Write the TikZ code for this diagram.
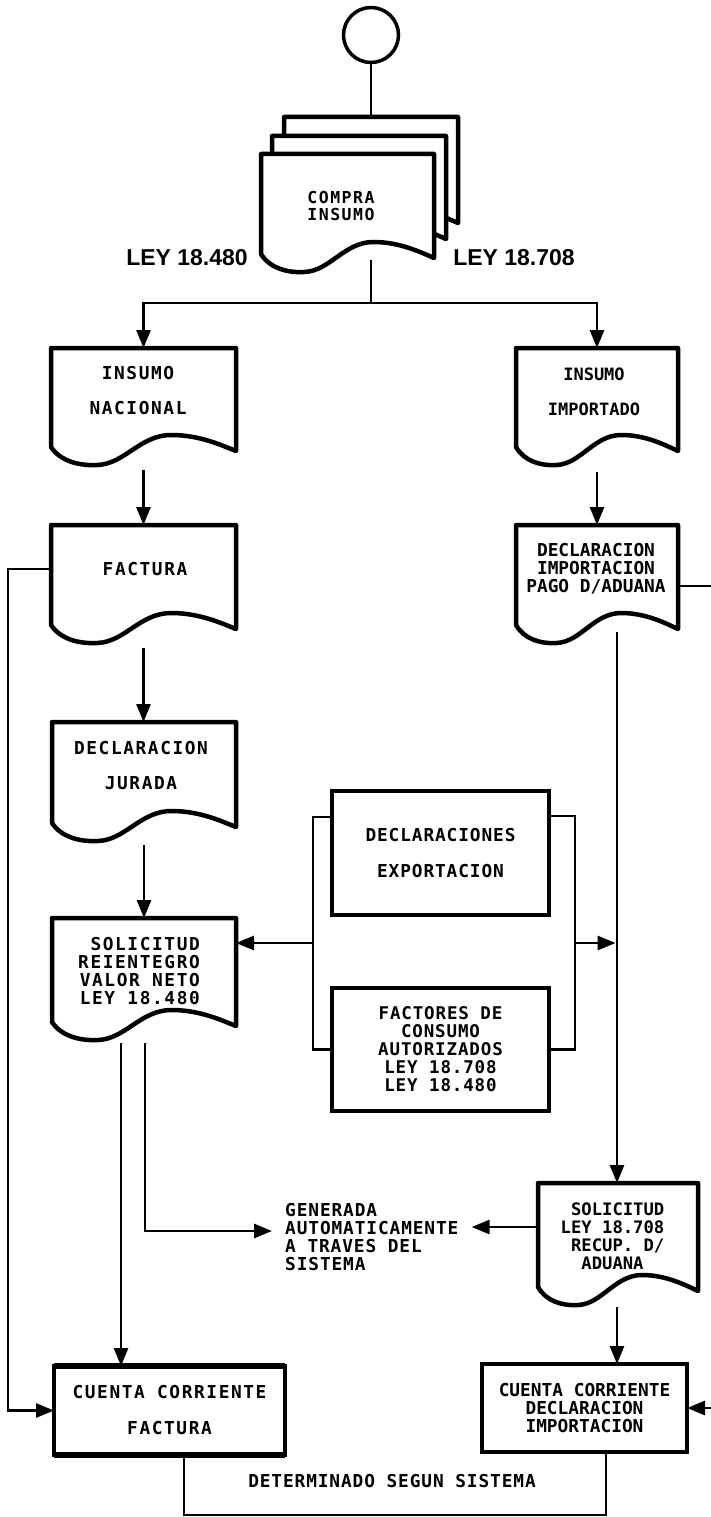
\documentclass[tikz,border=0pt]{standalone}
\usepackage{fontspec}
\usetikzlibrary{arrows.meta,calc}
\newfontfamily\fm{DejaVu Sans Mono}
\newfontfamily\fmA{DejaVu Sans Mono}[LetterSpace=5]
\newfontfamily\fmB{DejaVu Sans Mono}[LetterSpace=9]
\newfontfamily\flb{Liberation Sans}
\newcommand\docshape[5]{%
  \pgfmathsetmacro\dL{#2}\pgfmathsetmacro\dT{#3}\pgfmathsetmacro\dR{#4}\pgfmathsetmacro\dB{#5}%
  \pgfmathsetmacro\dw{\dR-\dL}%
  \draw[docline] (\dL,\dB) -- (\dL,\dT) -- (\dR,\dT) -- (\dR,\dB+4)
    .. controls (\dL+0.92*\dw,\dB-2) and (\dL+0.80*\dw,\dB-12) .. (\dL+0.65*\dw,\dB-12)
    .. controls (\dL+0.48*\dw,\dB-12) and (\dL+0.40*\dw,\dB+17) .. (\dL+0.25*\dw,\dB+18)
    .. controls (\dL+0.15*\dw,\dB+19) and (\dL+0.05*\dw,\dB+14) .. cycle;
  \node[frame, minimum width=\dw, minimum height=\dB-\dT, anchor=north west] (#1) at (\dL,\dT) {};
}
\begin{document}
\begin{tikzpicture}[x=1pt,y=-1pt,
  docline/.style={line width=4.5pt, fill=white, line join=round},
  frame/.style={inner sep=0pt, outer sep=0pt, rectangle},
  boxn/.style={draw, line width=4.5pt, inner sep=0pt, outer sep=0pt, align=center, fill=white},
  tN/.style={inner sep=0pt, align=center, font=\fm\bfseries\fontsize{17.8}{18}\selectfont},
  tA/.style={inner sep=0pt, align=center, font=\fmA\bfseries\fontsize{17.8}{18}\selectfont},
  tB/.style={inner sep=0pt, align=center, font=\fmB\bfseries\fontsize{17.8}{18}\selectfont},
  lbl/.style={inner sep=0pt, font=\flb\bfseries\fontsize{23}{24}\selectfont},
  conn/.style={line width=2.8pt},
  arr/.style={conn, -{Triangle[length=18pt,width=14pt]}},
  startc/.style={circle, draw, line width=3.5pt, minimum size=55pt, inner sep=0pt}
]
\useasboundingbox (0,0) rectangle (711,1517);

% start and stacked purchase documents
\node[startc] (start) at (371,35) {};
\docshape{compra3}{284}{117}{458}{219}
\docshape{compra2}{272}{136}{446}{235}
\docshape{compra}{261}{154}{434}{254}
\node[tB, font=\fmB\bfseries\fontsize{16.5}{17}\selectfont] (compra-t) at (341,205.5) {COMPRA\\INSUMO};
\node[lbl] (ley1) at (187,258) {LEY 18.480};
\node[lbl] (ley2) at (514,258) {LEY 18.708};

% documents
\docshape{nac}{51}{348}{236}{447}
\node[tB] (nac-t) at (138,390.5) {INSUMO\\[17pt]NACIONAL};
\docshape{imp}{516}{348}{678}{447}
\node[tN, font=\fm\bfseries\fontsize{17}{18}\selectfont] (imp-t) at (594,391.5) {INSUMO\\[17pt]IMPORTADO};
\docshape{fac}{51}{525}{236}{625}
\node[tB] (fac-t) at (145,569) {FACTURA};
\docshape{declimp}{516}{525}{678}{625}
\node[tN] (declimp-t) at (596,569) {DECLARACION\\IMPORTACION\\PAGO D/ADUANA};
\docshape{dj}{52}{722}{236}{823}
\node[tB] (dj-t) at (141,765.5) {DECLARACION\\[17pt]JURADA};
\docshape{sol}{52}{918}{236}{1022}
\node[tB, align=right] (sol-t) at (139,971.5) {SOLICITUD\\REIENTEGRO\\VALOR NETO\\LEY 18.480};
\docshape{solr}{538}{1183}{698}{1287}
\node[tN, align=right, font=\fm\bfseries\fontsize{17.2}{18}\selectfont] (solr-t) at (612.5,1236) {SOLICITUD\\LEY 18.708\\RECUP. D/\\ADUANA\hphantom{MM}};

% boxes
\node[boxn, tA, minimum width=217pt, minimum height=124pt] (exp) at (440.5,853) {DECLARACIONES\\[18pt]EXPORTACION};
\node[boxn, tA, font=\fmA\bfseries\fontsize{17.5}{18}\selectfont, minimum width=217pt, minimum height=123pt] (fact) at (440.5,1049.5) {FACTORES DE\\CONSUMO\\AUTORIZADOS\\LEY 18.708\\LEY 18.480};
\node[boxn, tB, minimum width=231pt, minimum height=89pt] (cff) at (169.5,1410.5) {CUENTA CORRIENTE\\[18pt]FACTURA};
\draw[line width=6.5pt] (cff.north west) -- (cff.north east);
\draw[line width=6.5pt] (cff.south west) -- (cff.south east);
\node[boxn, tN, minimum width=205pt, minimum height=88pt] (cfd) at (584.5,1408) {CUENTA CORRIENTE\\DECLARACION\\IMPORTACION};

% free text
\node[tA, align=left, anchor=west, inner xsep=13pt] (gen) at (272,1237.5) {GENERADA\\AUTOMATICAMENTE\\A TRAVES DEL\\SISTEMA};
\node[tA] (det) at (392,1481) {DETERMINADO SEGUN SISTEMA};

% connectors
\draw[conn] (start) -- (compra3.north);
\coordinate (cout) at (371,260);
\coordinate (split) at (371,303);
\draw[conn] (cout) -- (split);
\draw[arr] (split) -| (nac.north);
\draw[arr] (split) -| (imp.north);

\coordinate (n1) at ([yshift=-23pt]nac.south);
\draw[arr] (n1) -- (n1 |- fac.north);
\coordinate (i1) at ([yshift=-25pt]imp.south);
\draw[arr] (i1) -- (i1 |- declimp.north);
\coordinate (f1) at ([yshift=-23pt]fac.south);
\draw[arr] (f1) -- (f1 |- dj.north);
\coordinate (j1) at ([yshift=-22pt]dj.south);
\draw[arr] (j1) -- (j1 |- sol.north);

\draw[arr] ([yshift=6pt]fac.west) -- ++(-43,0) |- (cff.west);

% bracket round export documents
\draw[conn] ([yshift=36pt]exp.west) -- ++(-19,0) |- (fact.west);
\draw[conn] ([yshift=37pt]exp.east) -- ++(26,0) |- (fact.east);
\coordinate (bl) at (313,943);
\coordinate (br) at (575,943);
\coordinate (dout) at (617,632);
\draw[arr] (dout) -- (dout |- solr.north);
\draw[arr] (bl) -- (bl -| sol.east);
\draw[arr] (br) -- ([xshift=-1.4pt]br -| dout);

% from solicitud reintegro
\coordinate (s1) at (121,1043);
\coordinate (s2) at (145,1043);
\draw[arr] (s1) -- (s1 |- cff.north);
\draw[arr] (s2) |- ([yshift=6.5pt]gen.west);
\coordinate (sw) at ([yshift=8pt]solr.west);
\draw[arr] (sw) -- (sw -| gen.east);

\coordinate (so) at (617,1307);
\draw[arr] (so) -- (so |- cfd.north);

\coordinate (redge) at (713,586);
\draw[arr] ([yshift=-11pt]declimp.east) -- (redge) |- (cfd.east);

\draw[conn] ([xshift=14.5pt]cff.south) -- ++(0,60) -| ([xshift=21.5pt]cfd.south);
\end{tikzpicture}
\end{document}
